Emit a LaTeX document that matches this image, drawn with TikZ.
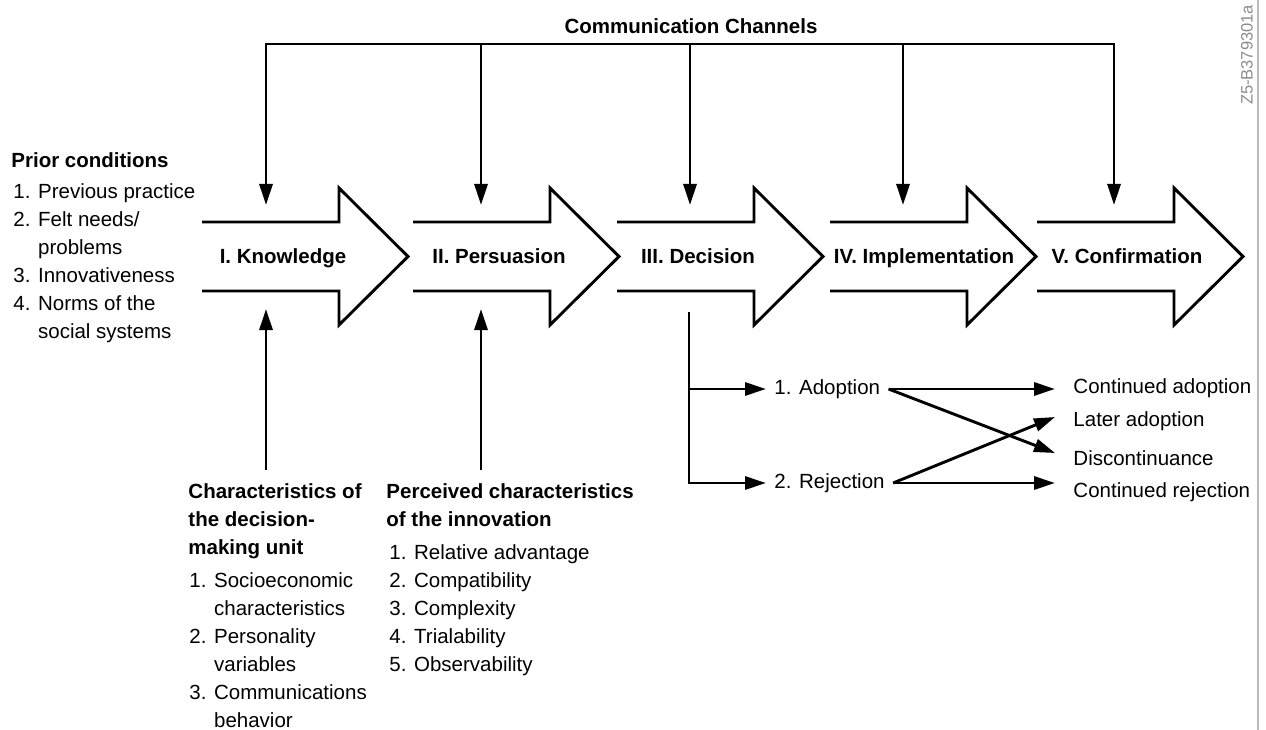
\documentclass[tikz,border=0pt]{standalone}
\usepackage{fontspec}
\setmainfont{Liberation Sans}
\usetikzlibrary{arrows.meta,positioning}

\begin{document}
\begin{tikzpicture}
  [x=1pt,y=-1pt,line width=2.9pt,>={Triangle[length=21pt,width=13pt]},
   font=\fontsize{20.5}{28}\selectfont,
   stage/.style={draw,line join=miter},
   stage label/.style={font=\fontsize{20.5}{28}\selectfont\bfseries,anchor=base},
   heading/.style={font=\fontsize{20.5}{28}\selectfont\bfseries,align=left,inner sep=0pt,anchor=north west},
   list/.style={align=left,inner sep=0pt},
   choice/.style={inner xsep=7pt,inner ysep=0pt,anchor=west},
   outcome/.style={inner xsep=17pt,inner ysep=0pt,anchor=west}]

  \useasboundingbox (0,0) rectangle (1266,730);

  % Stages
  \foreach \n/\x/\lx/\txt in {1/202/283/I. Knowledge,2/413/499/II. Persuasion,
      3/617/698/III. Decision,4/830/924/IV. Implementation,5/1037/1127/V. Confirmation}
  {
    \coordinate (s\n) at (\x,256.5);
    \draw [stage] (s\n) ++(0,-34.5) -- ++(137,0) -- ++(0,-34) -- ++(69,68.5)
      -- ++(-69,68.5) -- ++(0,-34) -- ++(-137,0);
    \node [stage label] (l\n) at (\lx,263.5) {\txt};
  }

  % Communication channels
  \node [stage label] (cc) at (691,34) {Communication Channels};
  \foreach \n/\x in {1/266,2/481,3/690,4/903,5/1114}
  {
    \coordinate (c\n) at (\x,44);
    \coordinate (t\n) at (\x,205);
  }
  \draw [->] (c3) -| (t1);
  \draw [->] (c3) -| (t5);
  \draw [->] (c2) -- (t2);
  \draw [->] (c3) -- (t3);
  \draw [->] (c4) -- (t4);

  % Prior conditions
  \node [heading,anchor=base west] (prior) at (10,168) {Prior conditions};
  \node [list,below=13pt of prior.south west,anchor=north west,xshift=2pt] (priorlist)
    {1. Previous practice\\2. Felt needs/\\\phantom{2. }problems\\3. Innovativeness\\
     4. Norms of the\\\phantom{4. }social systems};

  % Decision-making unit
  \node [heading] (unit) at (187,482.5) {Characteristics of\\the decision-\\making unit};
  \node [list,below=11pt of unit.south west,anchor=north west,xshift=1pt] (unitlist)
    {1. Socioeconomic\\\phantom{1. }characteristics\\2. Personality\\\phantom{2. }variables\\
     3. Communications\\\phantom{3. }behavior};

  % Perceived characteristics
  \node [heading] (innov) at (385,482.5) {Perceived characteristics\\of the innovation};
  \node [list,below=15pt of innov.south west,anchor=north west,xshift=3pt] (innovlist)
    {1. Relative advantage\\2. Compatibility\\3. Complexity\\4. Trialability\\5. Observability};

  \coordinate (b1) at (266,470);
  \coordinate (b2) at (481,470);
  \coordinate (k1) at (266,309);
  \coordinate (k2) at (481,309);
  \draw [->] (b1) -- (k1);
  \draw [->] (b2) -- (k2);

  % Decision outcomes
  \coordinate (dec) at (689,312);
  \node [choice] (adopt) at (766,389) {1. Adoption};
  \node [choice] (reject) at (766,483) {2. Rejection};
  \draw [->] (dec) |- (reject);
  \draw [->] (dec |- adopt) -- (adopt);

  \node [outcome] (contadopt) at (1055,388) {Continued adoption};
  \node [outcome] (later) at (1055,421) {Later adoption};
  \node [outcome] (discont) at (1055,458) {Discontinuance};
  \node [outcome] (contreject) at (1055,492) {Continued rejection};
  \draw [->] (adopt) -- (adopt -| contadopt.west);
  \draw [->] (adopt.east) -- ([yshift=5pt]discont.west);
  \draw [->] (reject.east) -- ([yshift=4pt]later.west);
  \draw [->] (reject) -- (reject -| contreject.west);

  % Border and figure number
  \draw [gray!55,line width=1.5pt] (1258,0) -- (1258,730);
  \node [rotate=90,text=gray!90,font=\fontsize{16.5}{18}\selectfont] (figid) at (1247,55) {Z5-B379301a};
\end{tikzpicture}
\end{document}
